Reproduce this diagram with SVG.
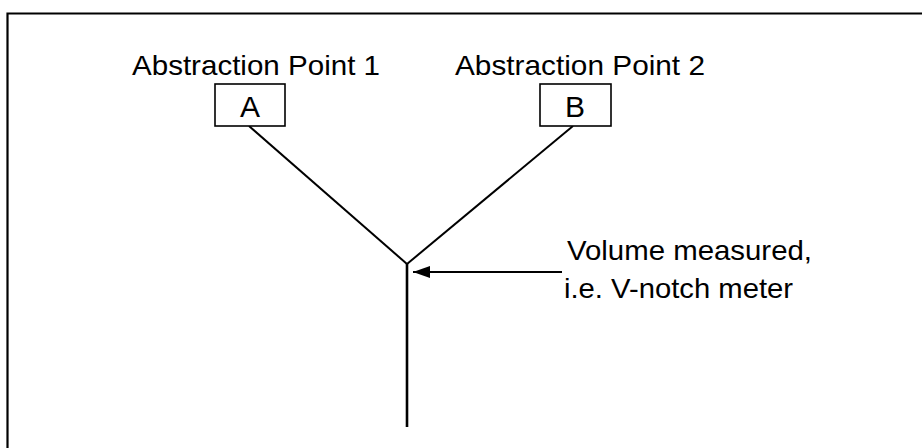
<svg xmlns="http://www.w3.org/2000/svg" width="922" height="448" viewBox="0 0 922 448">
<style>
.t{font-family:"Liberation Sans",Arial,sans-serif;fill:#000;}
.lbl{font-size:28px;}
.big{font-size:30px;}
.box{fill:#fff;stroke:#000;stroke-width:1.6;}
.ln{stroke:#000;stroke-width:2;fill:none;}
</style>
<defs>
<marker id="ah" markerWidth="17" markerHeight="12" refX="17" refY="6" orient="auto" markerUnits="userSpaceOnUse">
<path d="M0,0 L17,6 L0,12 Z" fill="#000"/>
</marker>
</defs>
<rect width="922" height="448" fill="#fff"/>
<path d="M7.5,448 V13.5 H922" fill="none" stroke="#000" stroke-width="2.2"/>
<g id="connectors">
<line class="ln" x1="249" y1="126" x2="407" y2="264"/>
<line class="ln" x1="573" y1="126" x2="407" y2="264"/>
<line x1="407" y1="263" x2="407" y2="427" stroke="#000" stroke-width="2.6"/>
<line class="ln" x1="562" y1="272" x2="413" y2="272" marker-end="url(#ah)"/>
</g>
<g id="nodeA">
<text class="t lbl" x="132" y="75" textLength="248" lengthAdjust="spacingAndGlyphs">Abstraction Point 1</text>
<rect class="box" x="215" y="84" width="70" height="42"/>
<text class="t big" x="250" y="117" text-anchor="middle">A</text>
</g>
<g id="nodeB">
<text class="t lbl" x="455" y="75" textLength="250" lengthAdjust="spacingAndGlyphs">Abstraction Point 2</text>
<rect class="box" x="540" y="84" width="71" height="42"/>
<text class="t big" x="575" y="117" text-anchor="middle">B</text>
</g>
<g id="meter">
<text class="t lbl" x="567" y="260" textLength="245" lengthAdjust="spacingAndGlyphs">Volume measured,</text>
<text class="t lbl" x="564" y="298" textLength="229" lengthAdjust="spacingAndGlyphs">i.e. V-notch meter</text>
</g>
</svg>
